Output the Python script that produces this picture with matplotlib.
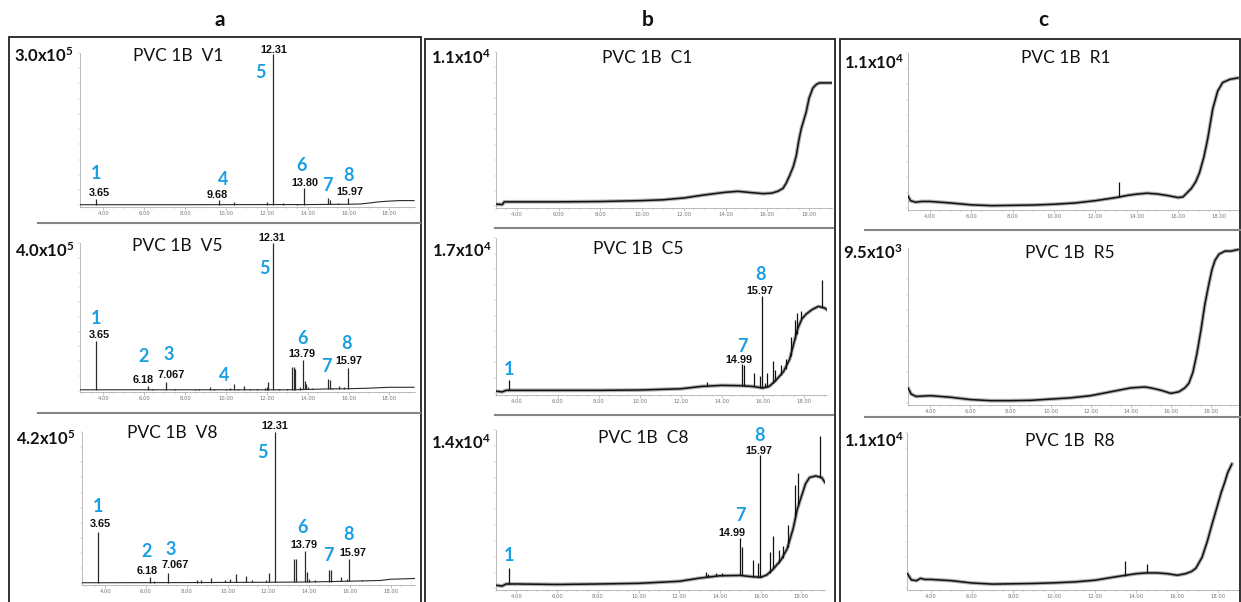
import numpy as np
import matplotlib
matplotlib.use("Agg")
import matplotlib.pyplot as plt
from matplotlib.lines import Line2D
from matplotlib.patches import Rectangle

# ---------------------------------------------------------------------------
# Chromatogram data: retention time (min) vs. abundance (% of full scale)
# baseline: (time, %) ; peaks: (time, base %, apex %)
# ---------------------------------------------------------------------------
v1_baseline = [(2.86, 0.5), (4, 0.5), (8, 0.5), (12, 0.6), (14, 0.6), (16, 0.8),
               (16.6, 1.0), (17.0, 1.6), (17.5, 2.4), (17.9, 2.8), (18.5, 3.2), (19.2, 3.2)]
v1_peaks = [(3.65, 0.5, 4.3), (9.68, 0.5, 3.3), (10.4, 0.5, 2.2), (12.0, 0.6, 2.0),
            (12.31, 0.6, 99.5), (12.8, 0.6, 1.3), (13.5, 0.6, 1.2), (13.80, 0.6, 11.3),
            (15.0, 0.7, 4.8), (15.1, 0.7, 3.3), (15.5, 0.8, 1.7), (15.97, 0.8, 4.8)]
v1_numbers = [("1", 3.64, 21), ("4", 9.84, 17), ("5", 11.67, 87), ("6", 13.72, 26),
              ("7", 14.96, 13), ("8", 15.99, 19.6)]
v1_times = [("3.65", 3.79, 8.3), ("9.68", 9.58, 7), ("12.31", 12.32, 101.7),
            ("13.80", 13.84, 14.8), ("15.97", 16.04, 8.7)]

v5_baseline = [(2.86, 0.5), (4, 0.5), (8, 0.5), (12, 0.5), (13, 0.5), (14, 0.7),
               (15, 1.1), (16, 1.2), (17, 1.6), (18, 2.2), (19.2, 2.2)]
v5_peaks = [(3.65, 0.5, 33.7), (6.18, 0.5, 3.0), (6.4, 0.5, 1.2), (7.067, 0.5, 6.0),
            (7.5, 0.5, 1.2), (8.5, 0.5, 1.2), (8.7, 0.5, 1.3), (9.2, 0.5, 2.2),
            (9.4, 0.5, 0.9), (10.0, 0.5, 1.2), (10.2, 0.5, 1.5), (10.4, 0.5, 4.5),
            (10.6, 0.5, 1.2), (10.9, 0.5, 3.4), (11.2, 0.5, 1.2), (11.5, 0.5, 0.9),
            (11.9, 0.5, 1.5), (12.0, 0.5, 2.2), (12.05, 0.5, 5.6), (12.31, 0.5, 100),
            (12.6, 0.5, 0.9), (13.0, 0.5, 1.2), (13.25, 0.6, 15.7), (13.35, 0.6, 15.7),
            (13.4, 0.6, 14.5), (13.6, 0.6, 2.2), (13.79, 0.7, 20.7), (13.85, 0.7, 6.7),
            (13.9, 0.7, 4.5), (14.0, 0.7, 2.2), (14.2, 0.8, 1.8), (15.0, 1.1, 7.9),
            (15.1, 1.1, 7.4), (15.2, 1.1, 1.8), (15.55, 1.1, 2.9), (15.8, 1.2, 2.2),
            (15.97, 1.2, 15.3), (16.4, 1.3, 1.2), (16.6, 1.4, 1.6)]
v5_numbers = [("1", 3.63, 49), ("2", 5.96, 23), ("3", 7.18, 24.3), ("4", 9.91, 10),
              ("5", 11.9, 83), ("6", 13.73, 35.5), ("7", 14.93, 16), ("8", 15.9, 32)]
v5_times = [("3.65", 3.79, 37.5), ("6.18", 5.96, 7.4), ("7.067", 7.34, 10.6),
            ("12.31", 12.24, 103.4), ("13.79", 13.73, 24.7), ("15.97", 16.03, 20)]

v8_baseline = [(2.86, 0.5), (4, 0.5), (8, 0.6), (12, 0.8), (14, 1.0), (16, 1.5),
               (17.5, 2.0), (18, 2.8), (19.2, 3.3)]
v8_peaks = [(3.65, 0.5, 34.1), (6.18, 0.5, 4.3), (6.4, 0.5, 1.5), (7.067, 0.5, 7.2),
            (8.5, 0.6, 2.0), (8.7, 0.6, 2.0), (9.2, 0.6, 3.3), (9.9, 0.7, 2.6),
            (10.1, 0.7, 3.2), (10.4, 0.7, 6.0), (10.9, 0.7, 4.8), (11.2, 0.7, 2.0),
            (11.9, 0.8, 2.6), (12.05, 0.8, 7.0), (12.31, 0.8, 100), (13.25, 0.9, 16.3),
            (13.35, 0.9, 16.3), (13.79, 1.0, 21.7), (13.9, 1.0, 7.6), (14.0, 1.0, 3.2),
            (14.3, 1.1, 2.0), (15.0, 1.3, 8.7), (15.08, 1.3, 9.1), (15.55, 1.4, 4.0),
            (15.85, 1.5, 3.2), (15.97, 1.5, 16.3), (16.6, 1.7, 2.6)]
v8_numbers = [("1", 3.67, 51), ("2", 6.04, 21), ("3", 7.19, 22.4), ("5", 11.73, 86.3),
              ("6", 13.69, 37), ("7", 14.95, 18.5), ("8", 15.93, 32.6)]
v8_times = [("3.65", 3.75, 39), ("6.18", 6.04, 8.3), ("7.067", 7.43, 12),
            ("12.31", 12.33, 103.7), ("13.79", 13.77, 25.4), ("15.97", 16.17, 20)]

c1_baseline = [(3.0, 1.5), (3.3, 1.2), (3.4, 3.0), (4, 3.0), (6, 3.0), (8, 3.2),
               (10, 3.8), (11, 4.3), (12, 5.5), (13, 7.5), (14, 9.2), (14.6, 9.8),
               (15.2, 9.0), (15.8, 8.3), (16.2, 8.6), (16.5, 9.8), (16.75, 11.7),
               (16.9, 15), (17.07, 20), (17.25, 26), (17.39, 33), (17.5, 42),
               (17.62, 50), (17.75, 56), (17.86, 61), (18.0, 70), (18.18, 76.6),
               (18.35, 79), (18.5, 80), (18.8, 80), (19.09, 80)]
c1_peaks = []

c5_baseline = [(3.0, 1.5), (3.3, 1.0), (3.5, 2.0), (4, 2.0), (6, 2.0), (8, 2.0),
               (10, 2.2), (12, 3.0), (13, 4.5), (14, 5.2), (14.9, 5.0), (15.5, 4.5),
               (16.0, 3.5), (16.3, 4.5), (16.6, 8), (17.0, 14), (17.3, 22), (17.5, 32),
               (17.7, 42), (17.9, 48), (18.1, 51), (18.4, 54), (18.7, 56), (19.0, 55),
               (19.1, 54)]
c5_peaks = [(3.65, 2, 8.5), (13.3, 4.8, 7.5), (14.99, 5, 19), (15.08, 5, 18),
            (15.55, 4.5, 13), (15.85, 3.8, 11), (15.97, 3.6, 63), (16.1, 4, 7),
            (16.2, 4.3, 13), (16.5, 7, 21), (16.6, 8, 15), (16.9, 12, 18),
            (17.1, 16, 22), (17.35, 24, 36), (17.55, 35, 47), (17.65, 38, 52),
            (17.85, 48, 53), (18.9, 55, 73)]
c5_numbers = [("1", 3.64, 15.5), ("7", 14.98, 30.2), ("8", 15.87, 76.6)]
c5_times = [("14.99", 14.81, 21.3), ("15.97", 15.87, 66)]

c8_baseline = [(3.0, 2), (3.3, 1.5), (3.5, 2.8), (4, 2.8), (6, 2.5), (8, 2.8),
               (10, 3.2), (12, 4.5), (13, 6.5), (14, 8), (15, 8.2), (15.5, 7.5),
               (16.0, 7), (16.3, 8.5), (16.6, 12), (17.0, 18), (17.3, 25), (17.6, 38),
               (17.8, 50), (18.0, 58), (18.2, 66), (18.4, 70), (18.7, 71), (19.0, 70),
               (19.15, 67)]
c8_peaks = [(3.65, 2.8, 13), (13.3, 7, 10.5), (13.4, 7, 9), (13.8, 8, 10),
            (14.1, 8, 10), (14.99, 8.2, 32), (15.06, 8.2, 26), (15.6, 7.5, 18),
            (15.85, 7, 16), (15.97, 7, 84), (16.45, 10, 23), (16.6, 12, 33),
            (16.9, 16, 24), (17.1, 19, 27), (17.35, 26, 40), (17.7, 44, 65),
            (17.85, 52, 73), (18.9, 70, 96)]
c8_numbers = [("1", 3.64, 20.8), ("7", 14.98, 46.3), ("8", 15.93, 96.3)]
c8_times = [("14.99", 14.57, 35), ("15.97", 15.89, 87)]

r1_baseline = [(2.93, 8), (3.05, 5), (3.3, 4), (3.6, 4.5), (4, 4.5), (4.5, 4.0),
               (5, 3.5), (6, 2.3), (7, 1.8), (8, 2.0), (9, 2.2), (10, 2.7), (11, 3.5),
               (12, 5), (13, 7), (13.6, 8.5), (14, 9.2), (14.5, 9.8), (15, 9.3),
               (15.5, 8.3), (16.0, 7), (16.24, 7.4), (16.64, 12.8), (16.85, 17),
               (17.04, 23), (17.25, 33), (17.44, 45), (17.68, 64), (17.92, 75.5),
               (18.16, 81), (18.5, 83), (18.9, 84)]
r1_peaks = [(13.15, 7.3, 17)]

r5_baseline = [(2.89, 10), (3.05, 6), (3.3, 4.5), (4, 5), (5, 4), (6, 2.5), (7, 1.8),
               (8, 1.8), (9, 2), (10, 2.8), (11, 3.6), (12, 5), (13, 7.5), (14, 10),
               (14.7, 10.6), (15, 10), (15.5, 8.5), (16.0, 6.5), (16.4, 7.5), (16.7, 10),
               (16.9, 13), (17.1, 20), (17.3, 32), (17.5, 47), (17.7, 64), (17.9, 77),
               (18.05, 86), (18.2, 92), (18.4, 96), (18.7, 98), (19.0, 98), (19.35, 99)]
r5_peaks = []

r8_baseline = [(2.86, 9.5), (3.05, 5.5), (3.3, 5), (3.5, 6.5), (3.7, 5.8), (4, 5.8),
               (5, 5), (6, 3.5), (7, 2.8), (8, 3), (9, 3.2), (10, 3.6), (11, 4.2),
               (12, 5.3), (13, 7.5), (14, 9.5), (14.5, 10), (15, 10), (15.5, 9.5),
               (16.0, 8.5), (16.4, 9.5), (16.7, 11), (16.9, 13), (17.2, 20),
               (17.45, 30), (17.66, 40), (17.9, 51), (18.14, 62), (18.3, 68),
               (18.45, 74.5), (18.65, 80)]
r8_peaks = [(13.45, 8.2, 17.5), (14.5, 10, 16)]

# ---------------------------------------------------------------------------
# Figure layout (pixel geometry of the 1241 x 602 canvas)
# ---------------------------------------------------------------------------
W, H = 1241, 602
plt.rcParams["mathtext.default"] = "regular"

BLUE = "#1a9fe3"
fig = plt.figure(figsize=(W / 100, H / 100), dpi=100)


def fx(x):
    return x / W


def fy(y):
    return 1 - y / H


def make_axes(left, top, right, bottom, xlim):
    ax = fig.add_axes([fx(left), fy(bottom), (right - left) / W, (bottom - top) / H])
    ax.set_xlim(*xlim)
    ax.set_ylim(-1.0, 100)
    for side in ("top", "right"):
        ax.spines[side].set_visible(False)
    ax.spines["left"].set_color("#b0b0b0")
    ax.spines["left"].set_linewidth(0.6)
    ax.spines["bottom"].set_color("#a0a0a0")
    ax.spines["bottom"].set_linewidth(0.5)
    ax.set_xticks(np.arange(4, 18.01, 2))
    ax.set_xticklabels([f"{v:.2f}" for v in np.arange(4, 18.01, 2)])
    ax.set_xticks(np.arange(3, 19.01, 0.5), minor=True)
    ax.set_yticks(np.linspace(0, 100, 11))
    ax.tick_params(axis="x", which="major", length=2, width=0.4, color="#999999",
                   labelsize=3.8, labelcolor="#777777", pad=1)
    ax.tick_params(axis="x", which="minor", length=1.2, width=0.3, color="#aaaaaa")
    ax.tick_params(axis="y", which="major", length=1.5, width=0.3, color="#b0b0b0",
                   labelleft=False)
    ax.patch.set_alpha(0)
    return ax


def draw_trace(ax, baseline, peaks, lw_base, lw_peak, color, fuzzy=False):
    t, y = zip(*baseline)
    if fuzzy:
        # soft halo that gives the noisy detector trace its width
        ax.plot(t, y, color="#6f6f6f", lw=lw_base + 1.6, alpha=0.55,
                solid_joinstyle="round", zorder=2)
    ax.plot(t, y, color=color, lw=lw_base, solid_joinstyle="round", zorder=3)
    if peaks:
        pt, pb, ptop = zip(*peaks)
        ax.vlines(pt, pb, ptop, color=color, lw=lw_peak, zorder=3)


def annotate(ax, numbers, times):
    for lab, t, f in numbers:
        ax.text(t, f, lab, color=BLUE, fontsize=13, family="Lato", weight="bold",
                ha="center", va="center", clip_on=False, zorder=4)
    for lab, t, f in times:
        ax.text(t, f, lab, color="#111111", fontsize=7.8, family="Liberation Sans",
                weight="bold", ha="center", va="center", clip_on=False, zorder=4)


def scale_label(x_right, y, mant, exp):
    fig.text(fx(x_right), fy(y), f"{mant}x10$^{{{exp}}}$", ha="right", va="center",
             fontsize=12, family="Lato", weight="bold", color="#111111")


def title(x, y, s):
    fig.text(fx(x), fy(y), s, ha="center", va="center", fontsize=12.5, family="Lato",
             color="#111111")


# Column frames
for l, t, r in ((9, 37, 421), (425, 39, 835), (840, 39, 1240)):
    fig.add_artist(Rectangle((fx(l), fy(700)), (r - l) / W, (700 - t) / H,
                             transform=fig.transFigure, fill=False, lw=1.3,
                             ec="#222222"))

# Separators between stacked chromatograms
for x0, x1, y in ((38, 420, 223), (38, 420, 413), (495, 833, 228), (495, 833, 415),
                  (865, 1240, 230), (865, 1240, 417)):
    fig.add_artist(Line2D([fx(x0), fx(x1)], [fy(y), fy(y)], transform=fig.transFigure,
                          color="#858585", lw=1.5))

# Column letters
for x, s in ((220, "a"), (648, "b"), (1043, "c")):
    fig.text(fx(x), fy(20), s, ha="center", va="center", fontsize=15, family="Lato",
             weight="bold", color="#111111")

# ---- column a : virgin PVC ----
ax = make_axes(80, 53, 415, 207, (2.86, 19.25))
draw_trace(ax, v1_baseline, v1_peaks, 0.8, 0.9, "#2a2a2a")
annotate(ax, v1_numbers, v1_times)
scale_label(73, 56, "3.0", 5)
title(178, 56, "PVC 1B  V1")

ax = make_axes(80, 243, 415, 392, (2.86, 19.25))
draw_trace(ax, v5_baseline, v5_peaks, 0.8, 0.9, "#2a2a2a")
annotate(ax, v5_numbers, v5_times)
scale_label(74, 251, "4.0", 5)
title(177, 246, "PVC 1B  V5")

ax = make_axes(82, 432, 415, 585, (2.86, 19.2))
draw_trace(ax, v8_baseline, v8_peaks, 0.8, 0.9, "#2a2a2a")
annotate(ax, v8_numbers, v8_times)
scale_label(75, 439, "4.2", 5)
title(172, 433, "PVC 1B  V8")

# ---- column b ----
ax = make_axes(496, 52, 832, 208, (3.0, 19.1))
draw_trace(ax, c1_baseline, c1_peaks, 1.1, 0.9, "#111111", fuzzy=True)
scale_label(491, 58, "1.1", 4)
title(647, 58, "PVC 1B  C1")

ax = make_axes(496, 238, 827, 395, (3.0, 19.12))
draw_trace(ax, c5_baseline, c5_peaks, 1.1, 0.9, "#111111", fuzzy=True)
annotate(ax, c5_numbers, c5_times)
scale_label(492, 251, "1.7", 4)
title(638, 249, "PVC 1B  C5")

ax = make_axes(496, 430, 825, 590, (3.0, 19.16))
draw_trace(ax, c8_baseline, c8_peaks, 1.1, 0.9, "#111111", fuzzy=True)
annotate(ax, c8_numbers, c8_times)
scale_label(491, 443, "1.4", 4)
title(643, 438, "PVC 1B  C8")

# ---- column c ----
ax = make_axes(908, 53, 1240, 210, (2.93, 18.95))
draw_trace(ax, r1_baseline, r1_peaks, 1.1, 0.9, "#111111", fuzzy=True)
scale_label(904, 63, "1.1", 4)
title(1066, 58, "PVC 1B  R1")

ax = make_axes(908, 248, 1239, 405, (2.89, 19.4))
draw_trace(ax, r5_baseline, r5_peaks, 1.1, 0.9, "#111111", fuzzy=True)
scale_label(903, 253, "9.5", 3)
title(1070, 253, "PVC 1B  R5")

ax = make_axes(907, 433, 1239, 590, (2.84, 18.68))
draw_trace(ax, r8_baseline, r8_peaks, 1.1, 0.9, "#111111", fuzzy=True)
scale_label(904, 441, "1.1", 4)
title(1070, 441, "PVC 1B  R8")

fig.savefig("out.png", dpi=100)
